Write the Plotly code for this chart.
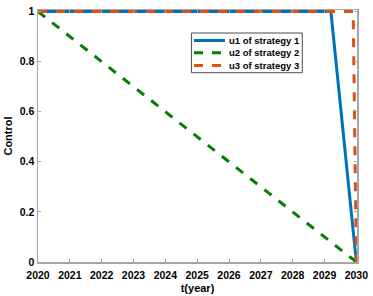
import plotly.graph_objects as go

# Data
t1 = [2020, 2029.2, 2030]
u1 = [1, 1, 0]
t2 = [2020, 2030]
u2 = [1, 0]
t3 = [2020, 2029.9, 2030]
u3 = [1, 1, 0]
names = ["u1 of strategy 1", "u2 of strategy 2", "u3 of strategy 3"]
colors = ["#0072BD", "#008000", "#D95319"]
dashes = ["solid", "dash", "dash"]
x_ticks = list(range(2020, 2031))
y_ticks = [0, 0.2, 0.4, 0.6, 0.8, 1]
y_ticktext = ["0", "0.2", "0.4", "0.6", "0.8", "1"]

FONT = "Liberation Sans, Arial, sans-serif"
AX = "#a6a6a6"

fig = go.Figure()
for tx, uy, nm, c, d in zip([t1, t2, t3], [u1, u2, u3], names, colors, dashes):
    fig.add_trace(go.Scatter(x=tx, y=uy, mode="lines", name=nm, showlegend=False,
                             hoverinfo="skip",
                             line=dict(color=c, width=3, dash=d)))

# Compact MATLAB-style legend box (paper coordinates of the plot area)
box = dict(x0=0.481, x1=0.8285, y0=0.7512, y1=0.9087)
rows_y = [0.879, 0.830, 0.780]
fig.add_shape(type="rect", xref="paper", yref="paper", layer="above",
              fillcolor="white", line=dict(color="#4d4d4d", width=1), **box)
for ry, nm, c, d in zip(rows_y, names, colors, dashes):
    fig.add_shape(type="line", xref="paper", yref="paper", layer="above",
                  x0=0.489, x1=0.586, y0=ry, y1=ry,
                  line=dict(color=c, width=3, dash=d))
    fig.add_annotation(xref="paper", yref="paper", x=0.5915, y=ry, text=nm,
                       showarrow=False, xanchor="left", yanchor="middle",
                       font=dict(family=FONT, size=9.5, color="#000", weight="bold"))

axis_common = dict(showline=True, linecolor=AX, linewidth=1.5, mirror="ticks",
                   ticks="inside", ticklen=3, tickcolor=AX, showgrid=False,
                   zeroline=False, automargin=False,
                   tickfont=dict(family=FONT, size=10.5, color="#000", weight="bold"))

fig.update_layout(
    width=373, height=296,
    margin=dict(l=38, r=16, t=10, b=34),
    paper_bgcolor="white", plot_bgcolor="white",
    showlegend=False,
    xaxis=dict(range=[2020, 2030.02], tickvals=x_ticks,
               ticktext=[str(v) for v in x_ticks], ticklabelstandoff=3,
               title=dict(text="t(year)", standoff=4,
                          font=dict(family=FONT, size=11, color="#000", weight="bold")),
               **axis_common),
    yaxis=dict(range=[0, 1.006], tickvals=y_ticks, ticktext=y_ticktext,
               title=dict(text="Control", standoff=5,
                          font=dict(family=FONT, size=11, color="#000", weight="bold")),
               **axis_common),
)

fig.write_html("out.html",
               config={"displayModeBar": False, "staticPlot": True},
               post_script="document.body.style.margin='0';document.body.style.overflow='hidden';")
